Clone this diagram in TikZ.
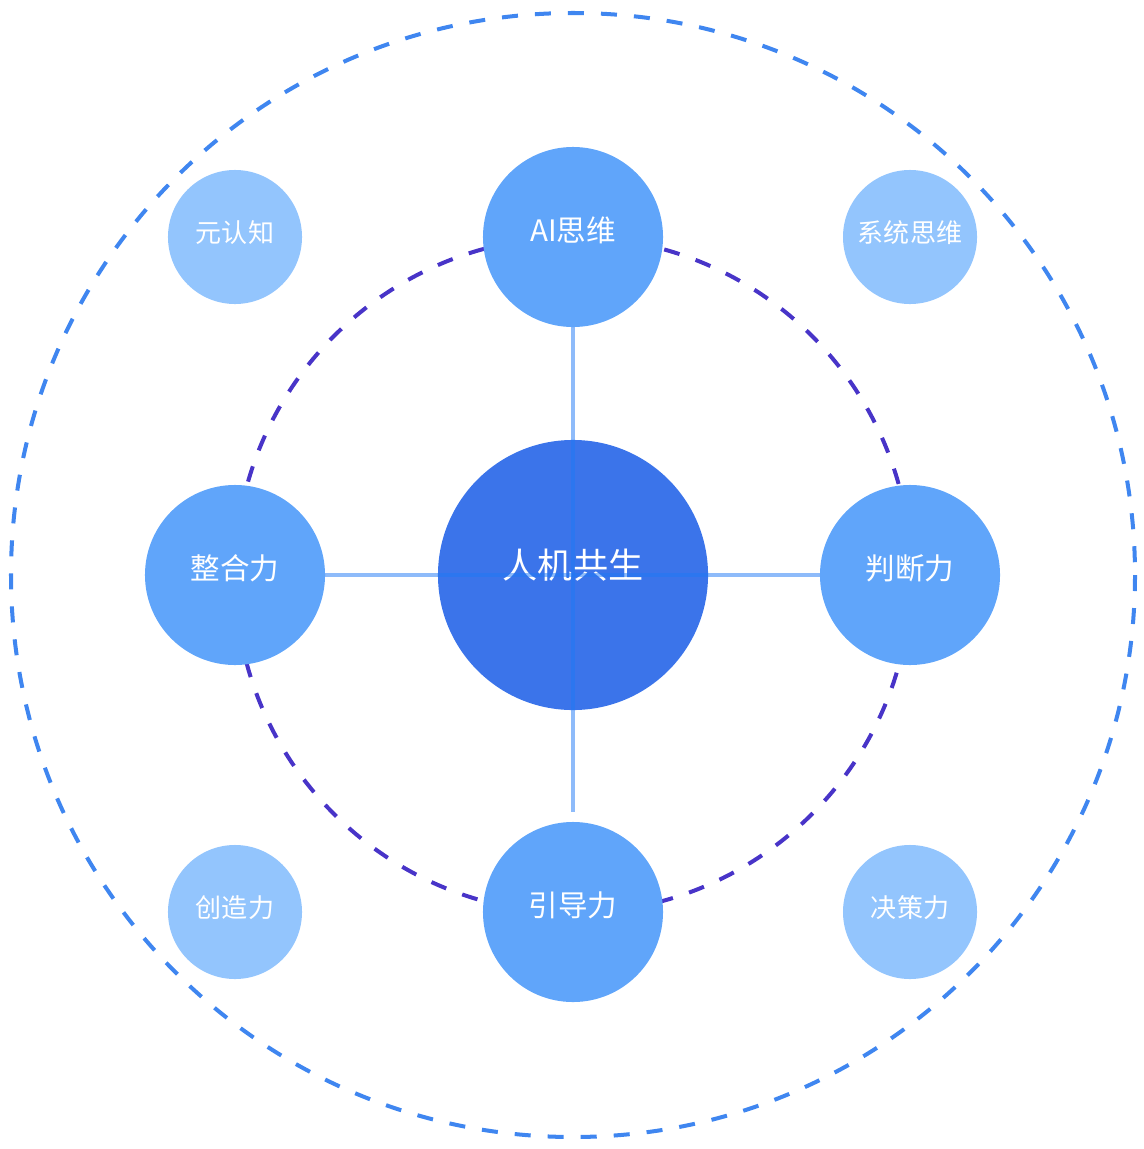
\documentclass[tikz,border=0pt]{standalone}
\usepackage{fontspec}
\setmainfont{Noto Sans CJK SC}
\definecolor{corefill}{RGB}{59,116,234}
\definecolor{satfill}{RGB}{96,165,250}
\definecolor{smallfill}{RGB}{147,197,253}
\definecolor{innerring}{RGB}{72,52,200}
\definecolor{outerring}{RGB}{63,134,240}
\definecolor{linkblue}{RGB}{30,120,245}
\tikzset{
    core/.style = {circle, fill=corefill, text=white, minimum size=6.75cm, inner sep=0pt, text height=0.6em, text depth=0.07em, font=\fontsize{25pt}{30pt}\selectfont},
    sat/.style = {circle, fill=satfill, text=white, minimum size=4.5cm, inner sep=0pt, text height=0.7em, text depth=0.08em, font=\fontsize{21pt}{25pt}\selectfont},
    small/.style = {circle, fill=smallfill, text=white, minimum size=3.35cm, inner sep=0pt, text height=0.85em, text depth=0.09em, font=\fontsize{18.5pt}{22pt}\selectfont},
    ring/.style = {line width=2.85pt, dash pattern=on 11.4pt off 12.1pt},
    link/.style = {line width=2.85pt, linkblue, opacity=0.5}
}
\begin{document}
\begin{tikzpicture}[x=0.025cm, y=-0.025cm]
    \useasboundingbox (0,0) rectangle (1143,1149);
    \draw[ring, outerring] (573,575) circle[radius = 562];
    \draw[ring, innerring] (573,575) circle[radius = 338];

    \node[core] (core) at (573,575) {人机共生};
    \node[sat] (ai) at (573,237) {AI思维};
    \node[sat] (zh) at (235,575) {整合力};
    \node[sat] (pd) at (910,575) {判断力};
    \node[sat] (yd) at (573,912) {引导力};

    \foreach \name/\x/\y/\txt in {yrz/235/237/元认知, xtsw/910/237/系统思维, czl/235/912/创造力, jcl/910/912/决策力} {
        \node[small] (\name) at (\x,\y) {\txt};
    }

    \coordinate (vend) at (573,812);
    \draw[link] (ai) -- (vend);
    \draw[link] (zh) -- (pd);
\end{tikzpicture}
\end{document}
